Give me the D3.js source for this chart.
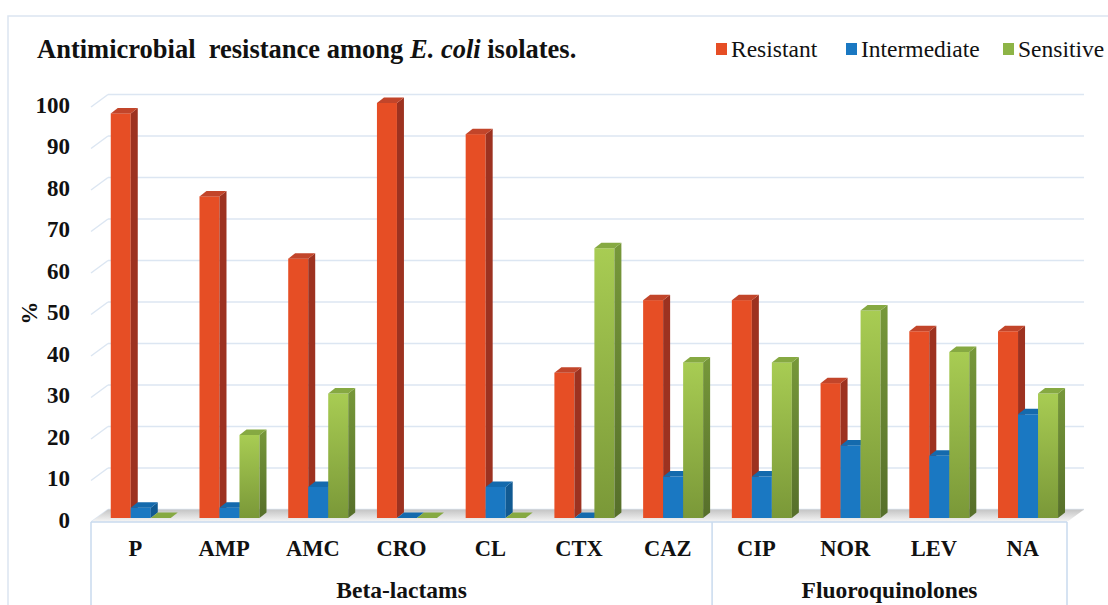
<!DOCTYPE html>
<html>
<head>
<meta charset="utf-8">
<script src="https://cdn.jsdelivr.net/npm/d3@7"></script>
<style>
  body { margin: 0; background: #fff; }
  svg { display: block; font-family: "Liberation Serif", serif; }
</style>
</head>
<body>
<div id="chart"></div>
<script>
// values (% of isolates)
const drugs = ["P", "AMP", "AMC", "CRO", "CL", "CTX", "CAZ", "CIP", "NOR", "LEV", "NA"];
const groups = ["Beta-lactams", "Fluoroquinolones"];
const groupSizes = [7, 4];
const seriesNames = ["Resistant", "Intermediate", "Sensitive"];
const resistant = [97.5, 77.5, 62.5, 100, 92.5, 35, 52.5, 52.5, 32.5, 45, 45];
const intermediate = [2.5, 2.5, 7.5, 0, 7.5, 0, 10, 10, 17.5, 15, 25];
const sensitive = [0, 20, 30, 0, 0, 65, 37.5, 37.5, 50, 40, 30];
const yTicks = [0, 10, 20, 30, 40, 50, 60, 70, 80, 90, 100];

const W = 1108, H = 605;
const FONT = "Liberation Serif";
const svg = d3.select("#chart").append("svg").attr("width", W).attr("height", H);
const defs = svg.append("defs");

// 3d offsets: floor depth and bar depth
const floorDx = 17, floorDy = -12.5;
const barDx = 7, barDy = -5.5;
const barShift = 5.4; // bars sit a bit behind the front edge

const x = d3.scaleBand().domain(drugs).range([91, 1067]);
const yBar = d3.scaleLinear().domain([0, 100]).range([518, 103]);
const yBack = d3.scaleLinear().domain([0, 100]).range([509.5, 94.5]);
const yFront = d3.scaleLinear().domain([0, 100]).range([522, 107]);
const sub = d3.scaleBand().domain(seriesNames).range([0, 60]);

const colors = {
  Resistant: { front: "#E64E25", side: "#9D3220", top: "#C2452A" },
  Intermediate: { front: "#1A78C2", side: "#115A92", top: "#146AAD" },
  Sensitive: { front: "url(#gFront)", side: "url(#gSide)", top: "#86A942" }
};
const legendColor = { Resistant: "#E64E25", Intermediate: "#1A78C2", Sensitive: "#8DB446" };

function grad(id, c1, c2) {
  const g = defs.append("linearGradient").attr("id", id)
    .attr("x1", 0).attr("y1", 0).attr("x2", 0).attr("y2", 1);
  g.append("stop").attr("offset", "0%").attr("stop-color", c1);
  g.append("stop").attr("offset", "100%").attr("stop-color", c2);
}
grad("gFront", "#A8CC53", "#7A9838");
grad("gSide", "#77983A", "#566F2A");
grad("gFloor", "#c4c4c4", "#f7f7f7");

// outer chart frame
svg.append("rect").attr("x", 8).attr("y", 16).attr("width", 1120).attr("height", 620)
  .attr("fill", "none").attr("stroke", "#dbe5f1").attr("stroke-width", 1.5);

// gridlines: back wall + left wall diagonal
const grid = svg.append("g");
yTicks.forEach(function(t) {
  grid.append("line")
    .attr("x1", 91 + floorDx).attr("x2", 1067 + floorDx)
    .attr("y1", yBack(t)).attr("y2", yBack(t))
    .attr("stroke", "#dce6f2").attr("stroke-width", 1.5);
  grid.append("line")
    .attr("x1", 91).attr("y1", yFront(t))
    .attr("x2", 91 + floorDx).attr("y2", yBack(t))
    .attr("stroke", "#dce6f2").attr("stroke-width", 1.5);
});

// floor
const fx0 = 91, fx1 = 1067;
svg.append("polygon")
  .attr("points", [[fx0, yFront(0)], [fx1, yFront(0)], [fx1 + floorDx, yBack(0)], [fx0 + floorDx, yBack(0)]].join(" "))
  .attr("fill", "url(#gFloor)");

// bars
const series = [resistant, intermediate, sensitive];
const bars = svg.append("g");
drugs.forEach(function(d, i) {
  seriesNames.forEach(function(s, k) {
    const v = series[k][i];
    const x0 = x(d) + x.bandwidth() / 2 - 30 + barShift + sub(s);
    const x1 = x0 + sub.bandwidth();
    const yt = yBar(v), yb = yBar(0);
    const c = colors[s];
    const g = bars.append("g");
    if (v > 0) {
      g.append("rect").attr("x", x0).attr("y", yt).attr("width", x1 - x0).attr("height", yb - yt)
        .attr("fill", c.front);
      g.append("polygon")
        .attr("points", [[x1, yt], [x1 + barDx, yt + barDy], [x1 + barDx, yb + barDy], [x1, yb]].join(" "))
        .attr("fill", c.side);
    }
    g.append("polygon")
      .attr("points", [[x0, yt], [x1, yt], [x1 + barDx, yt + barDy], [x0 + barDx, yt + barDy]].join(" "))
      .attr("fill", c.top);
  });
});

// y axis tick labels
const yAxis = svg.append("g").attr("transform", "translate(72,-2)")
  .call(d3.axisLeft(yFront).tickValues(yTicks).tickSize(0).tickPadding(2));
yAxis.attr("font-family", FONT);
yAxis.select(".domain").remove();
yAxis.selectAll("text").attr("font-size", 23).attr("font-weight", "bold").attr("fill", "#111");

svg.append("text").attr("transform", "translate(37,313) rotate(-90)")
  .attr("text-anchor", "middle").attr("font-size", 23).attr("font-weight", "bold")
  .attr("fill", "#111").text("%");

// category table
const tbl = svg.append("g").attr("stroke", "#c9daee").attr("stroke-width", 1.5);
tbl.append("line").attr("x1", 91).attr("x2", 1067).attr("y1", 522).attr("y2", 522);
let acc = 0;
const bounds = [x(drugs[0])];
groupSizes.forEach(function(n) { acc += n; bounds.push(x(drugs[acc - 1]) + x.bandwidth()); });
bounds.forEach(function(bx) {
  tbl.append("line").attr("x1", bx).attr("x2", bx).attr("y1", 522).attr("y2", 610);
});

const xAxis = svg.append("g").attr("transform", "translate(0,548)")
  .call(d3.axisBottom(x).tickSize(0).tickPadding(0));
xAxis.attr("font-family", FONT);
xAxis.select(".domain").remove();
xAxis.selectAll("text").attr("dy", "0.35em").attr("y", 0)
  .attr("font-size", 22.5).attr("font-weight", "bold").attr("fill", "#111");

groups.forEach(function(gname, j) {
  svg.append("text").attr("x", (bounds[j] + bounds[j + 1]) / 2).attr("y", 590)
    .attr("dy", "0.35em").attr("text-anchor", "middle")
    .attr("font-size", 23.5).attr("font-weight", "bold").attr("fill", "#111").text(gname);
});

// title
const title = svg.append("text").attr("x", 37).attr("y", 58)
  .attr("font-size", 26.5).attr("font-weight", "bold").attr("fill", "#111")
  .style("white-space", "pre");
title.append("tspan").text("Antimicrobial  resistance among ");
title.append("tspan").attr("font-style", "italic").text("E. coli");
title.append("tspan").text(" isolates.");

// legend
const legX = [716, 846, 1003];
const leg = svg.append("g");
seriesNames.forEach(function(s, k) {
  leg.append("rect").attr("x", legX[k]).attr("y", 43).attr("width", 11).attr("height", 12)
    .attr("fill", legendColor[s]);
  leg.append("text").attr("x", legX[k] + 15).attr("y", 57)
    .attr("font-size", 23.5).attr("fill", "#111").text(s);
});
</script>
</body>
</html>
